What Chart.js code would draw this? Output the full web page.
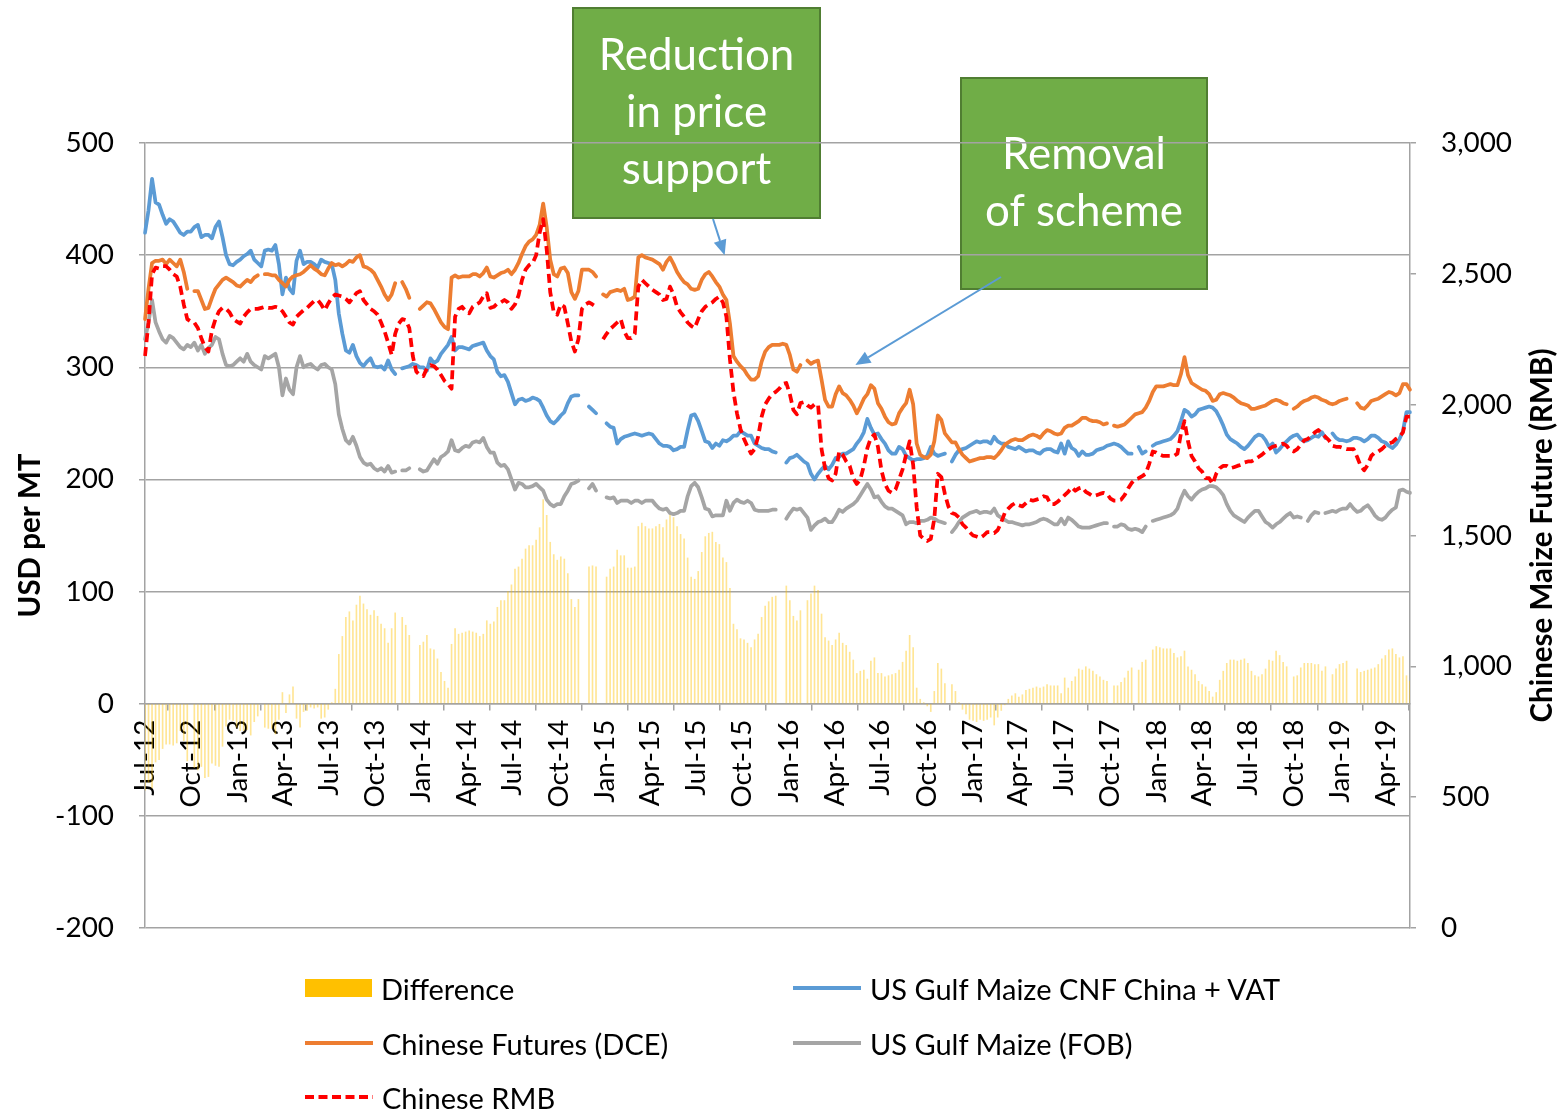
<!DOCTYPE html>
<html>
<head>
<meta charset="utf-8">
<script src="https://cdn.jsdelivr.net/npm/chart.js@4.4.0/dist/chart.umd.min.js"></script>
<style>
html,body{margin:0;padding:0;background:#fff;}
#wrap{position:relative;width:1561px;height:1112px;overflow:hidden;background:#fff;}
#c{position:absolute;left:0;top:0;}
.leg{position:absolute;display:flex;align-items:center;white-space:nowrap;color:#000;font-family:Lato,sans-serif;height:40px;}
.sw{flex:0 0 auto;margin-right:9px;display:block;}
</style>
</head>
<body>
<div id="wrap"><canvas id="c" width="1561" height="1112"></canvas></div>
<script>
// ---------------- DATA ----------------
const startDate = '2012-07-01';           // first weekly observation
const tickLabels = ['Jul-12','Oct-12','Jan-13','Apr-13','Jul-13','Oct-13','Jan-14','Apr-14',
  'Jul-14','Oct-14','Jan-15','Apr-15','Jul-15','Oct-15','Jan-16','Apr-16','Jul-16','Oct-16',
  'Jan-17','Apr-17','Jul-17','Oct-17','Jan-18','Apr-18','Jul-18','Oct-18','Jan-19','Apr-19'];

const seriesNames = ['Difference','US Gulf Maize CNF China + VAT','Chinese Futures (DCE)','US Gulf Maize (FOB)','Chinese RMB'];

// US Gulf Maize CNF China + VAT (USD/MT), weekly
const cnfChina = [420,440,468,447,445,436,428,432,430,425,
420,418,421,421,425,427,416,418,418,415,
425,430,416,400,392,391,394,396,399,401,
404,396,393,390,404,405,404,409,392,365,
380,370,366,395,404,392,394,394,392,389,
396,394,393,392,378,348,330,315,313,320,
310,304,301,305,308,301,300,301,298,306,
298,294,null,299,300,301,303,302,300,300,
297,308,304,306,312,316,320,327,315,318,
318,317,316,319,320,321,322,315,310,307,
296,292,293,287,277,267,271,272,270,271,
273,272,270,264,257,252,250,253,257,260,
268,274,275,275,null,null,265,262,259,null,
null,250,247,246,232,236,238,239,240,241,
240,239,240,241,240,236,232,230,230,229,
226,227,229,229,244,257,258,252,243,234,
233,228,232,230,235,234,236,239,239,243,
241,239,239,232,230,228,227,227,225,224,
null,null,215,219,220,222,219,216,214,205,
200,205,209,212,209,213,219,220,223,223,
225,227,232,236,242,254,246,240,241,236,
232,226,223,223,229,227,221,219,217,218,
218,219,221,229,223,221,222,223,null,216,
222,226,227,228,230,232,234,233,234,234,
232,238,234,232,232,229,228,227,229,227,
225,226,226,224,223,226,227,227,225,224,
232,223,234,228,226,221,225,222,222,223,
226,227,228,230,231,232,231,229,226,223,
223,null,229,223,225,null,230,232,233,234,
235,236,239,243,252,262,260,256,258,262,
263,264,265,264,261,255,248,240,236,234,
232,229,227,230,234,238,240,239,235,229,
232,224,227,231,234,237,239,240,236,234,
235,237,239,238,242,237,null,241,237,235,
235,234,235,237,237,236,234,236,239,239,
237,234,233,230,228,231,236,243,260,260];

// Chinese Futures (DCE) (USD/MT), weekly
const dceFutures = [343,370,393,395,395,396,392,396,393,390,
396,385,370,null,368,368,360,352,353,362,
370,374,378,380,378,376,373,372,375,378,
376,380,382,null,383,383,382,382,378,375,
372,378,381,382,383,385,388,391,388,386,
383,382,388,393,391,392,390,392,395,394,
398,400,390,389,387,384,378,372,365,360,
365,375,null,376,370,362,null,null,352,355,
358,357,352,346,340,336,334,380,382,380,
381,381,381,383,383,381,384,389,381,380,
382,384,385,387,383,387,393,401,408,412,
414,418,427,446,425,396,383,381,388,389,
384,367,361,368,387,387,387,385,381,null,
365,363,367,368,369,368,370,360,361,363,
398,400,398,397,396,394,392,387,394,398,
392,385,380,376,374,370,369,370,378,383,
385,381,376,372,365,360,339,310,305,301,
298,293,289,289,292,305,314,318,320,320,
320,321,320,311,298,296,302,null,306,303,
305,306,289,271,265,265,276,283,277,275,
271,266,259,265,272,276,284,281,268,263,
256,251,249,250,259,264,268,280,267,232,
222,220,219,222,234,257,253,241,237,233,
233,227,222,219,216,217,218,219,219,220,
220,219,222,226,231,233,235,236,235,235,
237,239,240,239,237,241,244,243,241,240,
241,246,248,248,250,252,255,255,253,252,
252,251,249,250,null,248,247,248,249,252,
255,258,259,260,264,270,278,283,283,283,
284,285,284,284,294,309,293,286,284,282,
280,279,276,270,271,276,277,276,275,273,
270,268,267,266,263,263,264,265,266,268,
270,271,270,268,267,null,263,265,268,270,
271,273,274,273,271,270,268,267,268,270,
271,272,null,null,268,264,263,266,270,271,
272,274,276,278,277,275,277,285,285,280];

// US Gulf Maize (FOB) (USD/MT), weekly
const usGulfFob = [325,340,360,340,332,325,322,328,326,322,
318,316,320,318,322,315,320,312,317,320,
327,325,312,302,301,302,305,308,305,312,
305,302,300,298,310,308,310,312,300,275,
290,280,276,300,310,300,302,303,300,298,
302,303,300,298,285,258,245,235,232,238,
230,220,215,213,214,210,208,210,207,212,
206,207,null,208,208,210,null,null,209,207,
208,213,218,214,220,222,225,235,226,225,
228,230,229,233,234,233,237,229,224,224,
215,212,213,209,200,191,197,196,193,193,
194,196,193,190,182,178,176,178,178,185,
190,196,197,199,null,null,192,196,190,null,
null,184,183,184,179,181,181,181,179,181,
181,179,181,181,181,177,174,173,174,170,
169,170,172,172,185,194,197,193,184,174,
173,167,168,168,168,181,172,179,182,180,
179,181,179,173,172,172,172,172,173,173,
null,null,165,170,174,173,174,170,166,155,
159,162,163,165,162,162,167,173,171,174,
176,178,181,186,191,196,191,184,185,180,
176,174,174,172,170,168,160,162,162,161,
163,163,164,166,165,163,162,161,null,153,
157,162,166,168,170,171,172,170,171,171,
170,174,168,166,164,162,162,161,160,159,
160,160,161,162,164,165,164,162,160,160,
165,160,166,164,161,158,157,157,157,158,
159,160,161,161,null,158,158,160,159,156,
155,156,155,153,158,null,163,164,165,166,
167,168,170,174,183,190,185,182,186,189,
191,192,194,194,193,190,186,178,172,168,
166,164,162,166,169,172,172,167,162,160,
157,160,162,165,168,170,166,167,166,null,
163,168,171,170,null,170,171,172,171,173,
174,174,178,174,171,172,175,177,173,168,
165,164,166,170,173,175,190,191,189,188];

// Chinese maize future (RMB/MT), weekly - right axis
const chineseRmb = [2186,2314,2499,2524,2520,2529,2529,2516,2499,2490,
2451,2383,2327,2318,2314,2293,2254,2220,2203,2284,
2327,2357,2370,2366,2353,2327,2318,2310,2336,2353,
2366,2366,2366,2370,2374,2370,2370,2374,2370,2357,
2336,2314,2306,2336,2349,2361,2370,2383,2396,2400,
2383,2361,2387,2409,2421,2417,2413,2404,2391,2409,
2426,2434,2400,2383,2366,2357,2344,2314,2280,2237,
2190,2271,2310,2327,2323,2293,2186,2126,2113,2109,
2139,2151,2147,2134,2113,2091,2079,2061,2336,2366,
2374,2357,2349,2374,2383,2391,2413,2426,2370,2374,
2387,2391,2400,2391,2366,2383,2417,2477,2516,2533,
2541,2571,2657,2709,2593,2430,2353,2344,2383,2374,
2310,2241,2203,2250,2366,2383,2391,2383,2374,null,
2250,2271,2289,2301,2314,2327,2280,2254,2254,2271,
2451,2477,2464,2451,2439,2430,2421,2400,2404,2451,
2421,2374,2353,2336,2314,2301,2293,2327,2357,2374,
2383,2391,2404,2413,2391,2336,2173,2049,1967,1907,
1869,1839,1813,1830,1877,1954,2001,2023,2040,2049,
2061,2079,2083,2040,1980,1963,2006,2010,1997,1989,
2001,2001,1830,1757,1719,1710,1736,1821,1809,1783,
1766,1719,1697,1714,1766,1834,1873,1886,1839,1749,
1697,1671,1663,1676,1714,1753,1809,1860,1770,1607,
1500,1487,1479,1487,1564,1736,1723,1659,1611,1586,
1581,1569,1543,1530,1513,1500,1496,1491,1500,1513,
1513,1509,1521,1551,1586,1603,1616,1624,1616,1611,
1624,1637,1633,1637,1641,1650,1646,1620,1620,1629,
1641,1654,1667,1684,1671,1680,1684,1667,1659,1650,
1654,1659,1663,1659,1641,1633,1633,1637,1654,1680,
1701,1714,1719,1727,1736,1774,1821,1817,1809,1804,
1804,1804,1804,1813,1890,1937,1860,1804,1783,1757,
1744,1719,1719,1697,1736,1757,1766,1766,1757,1761,
1766,1770,1779,1783,1783,1791,1800,1809,1821,1830,
1839,1843,1847,1851,1843,1826,1821,1830,1847,1864,
1869,1881,1894,1903,1890,1877,1864,1843,1839,1839,
1834,1830,1830,1830,1800,1766,1749,1770,1804,1817,
1821,1830,1843,1851,1856,1869,1877,1894,1954,1954];

// Difference (USD/MT), weekly bars
const difference = [-77,-70,-75,-52,-50,-40,-36,-36,-37,-35,
-24,-33,-51,null,-57,-59,-56,-66,-65,-53,
-55,-56,-38,-20,-14,-15,-21,-24,-24,-23,
-28,-16,-11,null,-21,-22,-22,-27,-14,10,
-8,8,15,-13,-21,-7,-6,-3,-4,-3,
-13,-12,-5,1,13,44,60,77,82,74,
88,96,89,84,79,83,78,71,67,54,
67,81,null,77,70,61,null,null,52,55,
61,49,48,40,28,20,14,53,67,62,
63,64,65,64,63,60,62,74,71,73,
86,92,92,100,106,120,122,129,138,141,
141,146,157,182,168,144,133,128,131,129,
116,93,86,93,null,null,122,123,122,null,
null,113,120,122,137,132,132,121,121,122,
158,161,158,156,156,158,160,157,164,169,
166,158,151,147,130,113,111,118,135,149,
152,153,144,142,130,126,103,71,66,58,
57,54,50,57,62,77,87,91,95,96,
null,null,105,92,78,74,83,null,92,98,
105,101,80,59,56,52,57,63,54,52,
46,39,27,29,30,22,38,41,27,27,
24,25,26,27,30,37,47,61,50,14,
4,1,-2,-7,11,36,31,18,null,17,
11,1,-5,-9,-14,-15,-16,-14,-15,-14,
-12,-19,-12,-6,-1,4,7,9,6,8,
12,13,14,15,14,15,17,16,16,16,
9,23,14,20,24,31,30,33,31,29,
26,24,21,20,null,16,16,19,23,29,
32,null,30,37,39,null,48,51,50,49,
49,49,45,41,42,47,33,30,26,20,
17,15,11,6,10,21,29,36,39,39,
38,39,40,36,29,25,24,26,31,39,
38,47,43,37,33,null,24,25,32,36,
36,36,35,35,29,33,null,26,31,35,
36,38,null,null,31,28,29,30,31,32,
35,40,43,48,49,44,41,42,25,20];

// ---------------- HELPERS ----------------
const DAY = 86400000;
const t0 = Date.parse(startDate + 'T00:00:00Z');
const weekLabels = cnfChina.map((_, i) => new Date(t0 + i * 7 * DAY).toISOString().slice(0, 10));
const MONTHS = {Jan:0,Feb:1,Mar:2,Apr:3,May:4,Jun:5,Jul:6,Aug:7,Sep:8,Oct:9,Nov:10,Dec:11};
const tickWeeks = tickLabels.map(l => {
  const [m, y] = l.split('-');
  return (Date.UTC(2000 + (+y), MONTHS[m], 1) - t0) / (7 * DAY);
});

const mctx = document.createElement('canvas').getContext('2d');
function fitPx(text, weight, family, target) {
  mctx.font = weight + ' 100px ' + family;
  return Math.round(100 * target / mctx.measureText(text).width * 10) / 10;
}
const FAM = 'Lato';
const tickPx = fitPx('3,000', '400', FAM, 71);
const xTickPx = fitPx('Oct-12', '400', FAM, 88);
const legendPx = fitPx('Chinese Futures (DCE)', '400', FAM, 286);
const titlePx = fitPx('Chinese Maize Future (RMB)', '700', FAM, 374);
const annotPx = fitPx('of scheme', '400', FAM, 198);

const GRID = '#a3a3a3';
const COLORS = {diff:'#FFC000', cnf:'#5B9BD5', dce:'#ED7D31', fob:'#A5A5A5', rmb:'#FF0000'};
const LW = 3.75;

// ---------------- PLUGINS ----------------
const annotBoxes = [
  {x:573, y:8, w:247, h:210, lines:['Reduction','in price','support']},
  {x:961, y:78, w:246, h:211, lines:['Removal','of scheme']}
];
const arrows = [
  {from:[713, 219], toWeek:164.5, toVal:400},
  {from:[1001, 277], toWeek:201.6, toVal:302}
];

const boxesPlugin = {
  id: 'boxes',
  beforeDraw(chart) {
    const ctx = chart.ctx;
    ctx.save();
    annotBoxes.forEach(b => {
      ctx.fillStyle = '#70AD47';
      ctx.fillRect(b.x, b.y, b.w, b.h);
      ctx.strokeStyle = '#507E32';
      ctx.lineWidth = 2;
      ctx.strokeRect(b.x, b.y, b.w, b.h);
      ctx.fillStyle = '#ffffff';
      ctx.font = '400 ' + annotPx + 'px ' + FAM;
      ctx.textAlign = 'center';
      ctx.textBaseline = 'middle';
      const cx = b.x + b.w / 2, cy = b.y + b.h / 2;
      const n = b.lines.length;
      b.lines.forEach((t, i) => ctx.fillText(t, cx, cy + (i - (n - 1) / 2) * 57));
    });
    ctx.restore();
  },
  afterDraw(chart) {
    const ctx = chart.ctx;
    const xs = chart.scales.x, ys = chart.scales.y;
    ctx.save();
    ctx.strokeStyle = COLORS.cnf;
    ctx.fillStyle = COLORS.cnf;
    ctx.lineWidth = 2;
    arrows.forEach(a => {
      const x1 = a.from[0], y1 = a.from[1];
      const x2 = xs.getPixelForValue(a.toWeek), y2 = ys.getPixelForValue(a.toVal);
      const ang = Math.atan2(y2 - y1, x2 - x1);
      const hl = 15, hw = 6.5;
      const bx = x2 - hl * Math.cos(ang), by = y2 - hl * Math.sin(ang);
      ctx.beginPath(); ctx.moveTo(x1, y1); ctx.lineTo(bx, by); ctx.stroke();
      ctx.beginPath();
      ctx.moveTo(x2, y2);
      ctx.lineTo(bx + hw * Math.sin(ang), by - hw * Math.cos(ang));
      ctx.lineTo(bx - hw * Math.sin(ang), by + hw * Math.cos(ang));
      ctx.closePath(); ctx.fill();
    });
    // right axis title (reads bottom-to-top)
    const y2s = chart.scales.y2;
    ctx.fillStyle = '#000';
    ctx.font = '700 ' + titlePx + 'px ' + FAM;
    ctx.textAlign = 'center';
    ctx.textBaseline = 'middle';
    ctx.translate(1542, (y2s.top + y2s.bottom) / 2);
    ctx.rotate(-Math.PI / 2);
    ctx.fillText('Chinese Maize Future (RMB)', 0, 0);
    ctx.restore();
  }
};

// ---------------- CHART ----------------
const tickFont = {family: FAM, size: tickPx, weight: '400'};
const lineDs = (label, data, color, order, extra) => Object.assign({
  type:'line', label, data, yAxisID:'y', borderColor:color, borderWidth:LW, pointRadius:0,
  tension:0, spanGaps:false, borderJoinStyle:'round', borderCapStyle:'round', order
}, extra || {});

const chart = new Chart(document.getElementById('c'), {
  type: 'bar',
  data: {
    labels: weekLabels,
    datasets: [
      {type:'bar', label:seriesNames[0], data:difference, yAxisID:'y', backgroundColor:'rgba(255,192,0,0.42)',
       barThickness:1, order:5},
      lineDs(seriesNames[1], cnfChina, COLORS.cnf, 3),
      lineDs(seriesNames[2], dceFutures, COLORS.dce, 2),
      lineDs(seriesNames[3], usGulfFob, COLORS.fob, 4),
      lineDs(seriesNames[4], chineseRmb, COLORS.rmb, 1, {yAxisID:'y2', borderDash:[9,5], borderCapStyle:'butt'})
    ]
  },
  options: {
    responsive: false,
    devicePixelRatio: 1,
    animation: false,
    events: [],
    layout: {padding: {top:143, bottom:184, left:0, right:0}},
    plugins: {legend:{display:false}, tooltip:{enabled:false}},
    scales: {
      x: {
        type: 'category',
        position: {y: 0},
        offset: false,
        afterBuildTicks: s => { s.ticks = tickWeeks.map(v => ({value: v})); },
        grid: {drawOnChartArea:false, drawTicks:true, tickLength:6, color:GRID, lineWidth:1.5},
        border: {display:true, color:GRID, width:1.5},
        ticks: {autoSkip:false, minRotation:90, maxRotation:90, padding:10, color:'#000',
                font:{family:FAM, size:xTickPx, weight:'400'},
                callback: (v, i) => tickLabels[i]}
      },
      y: {
        position: 'left',
        min: -200, max: 500,
        afterFit: s => { s.width = 145; },
        grid: {color:GRID, lineWidth:1.5, drawTicks:true, tickLength:6},
        border: {display:true, color:GRID, width:1.5},
        ticks: {stepSize:100, padding:25, color:'#000', font:tickFont},
        title: {display:true, text:'USD per MT', color:'#000',
                font:{family:FAM, size:titlePx, weight:'700'}, padding:{top:30 - titlePx*0.6, bottom:0}}
      },
      y2: {
        position: 'right',
        min: 0, max: 3000,
        afterFit: s => { s.width = 151; },
        grid: {drawOnChartArea:false, drawTicks:true, tickLength:6, color:GRID, lineWidth:1.5},
        border: {display:true, color:GRID, width:1.5},
        ticks: {stepSize:500, padding:25, color:'#000', font:tickFont,
                callback: v => v.toLocaleString('en-US')}
      }
    }
  },
  plugins: [boxesPlugin]
});

// ---------------- HTML LEGEND ----------------
const legendSlots = [
  {ds:0, left:305, cy:988},
  {ds:1, left:793, cy:988},
  {ds:2, left:305, cy:1043},
  {ds:3, left:793, cy:1043},
  {ds:4, left:305, cy:1097}
];
const wrap = document.getElementById('wrap');
legendSlots.forEach(slot => {
  const ds = chart.data.datasets[slot.ds];
  const item = document.createElement('div');
  item.className = 'leg';
  item.style.left = slot.left + 'px';
  item.style.top = (slot.cy - 20) + 'px';
  item.style.fontSize = legendPx + 'px';
  let sw;
  if (ds.type === 'bar') {
    sw = `<svg class="sw" width="67" height="18"><rect x="0" y="0" width="67" height="18" fill="${COLORS.diff}"/></svg>`;
  } else {
    const dash = ds.borderDash ? `stroke-dasharray="9 4.5"` : '';
    sw = `<svg class="sw" width="68" height="8"><line x1="0" y1="4" x2="68" y2="4" stroke="${ds.borderColor}" stroke-width="4" ${dash}/></svg>`;
  }
  item.innerHTML = sw + `<span>${ds.label}</span>`;
  wrap.appendChild(item);
});
</script>
</body>
</html>
